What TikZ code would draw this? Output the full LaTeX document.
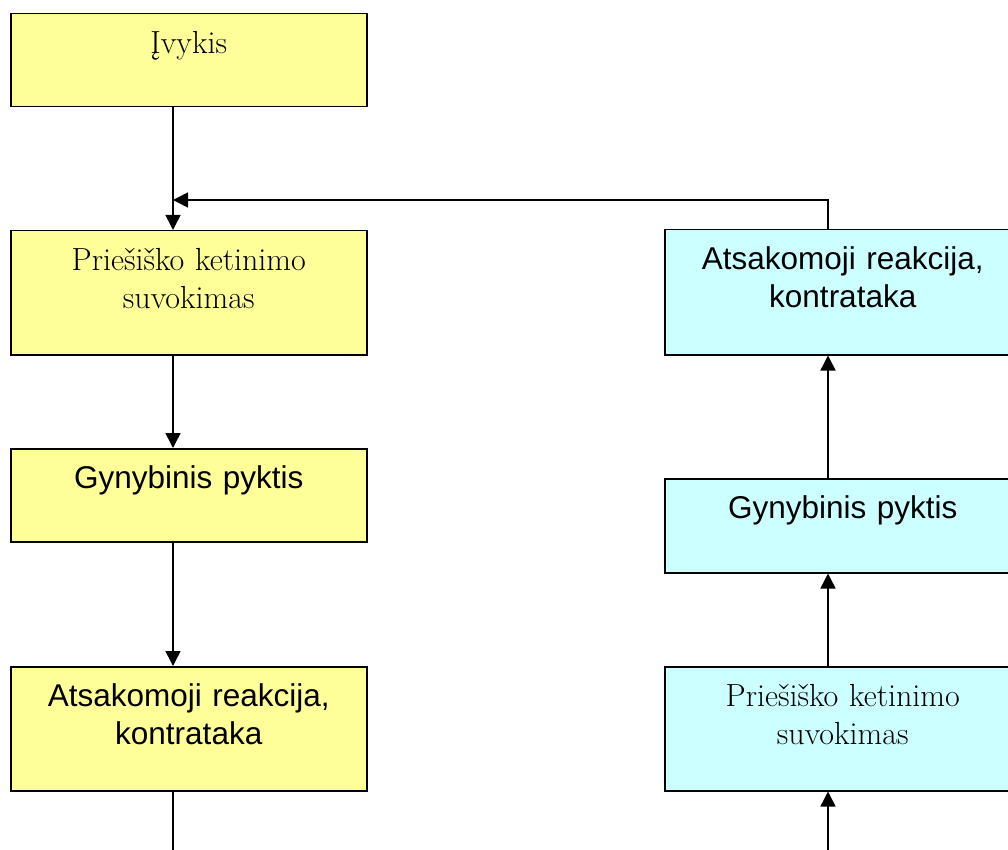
\documentclass[tikz,border=0pt]{standalone}
\usepackage{fontspec}
\newfontfamily\arialfont{Liberation Sans}
\usetikzlibrary{arrows.meta}

\definecolor{boxYellow}{RGB}{255,255,153}
\definecolor{boxCyan}{RGB}{204,255,255}

\def\xL{173}
\def\xR{828}

\tikzset{
  box/.style={draw=black, line width=1.5pt, inner sep=0pt, text width=356pt,
    text height=40pt, align=center, anchor=north west},
  ybox/.style={box, fill=boxYellow, text depth=#1},
  cbox/.style={box, fill=boxCyan, text depth=#1},
  serif/.style={font=\fontsize{32}{38}\selectfont},
  sans/.style={font=\arialfont\fontsize{31.5}{38}\selectfont},
  link/.style={->, line width=1.5pt}
}

\begin{document}
\begin{tikzpicture}[x=1pt, y=-1pt, >={Triangle[width=15pt,length=15pt]}]
  \useasboundingbox (0,0) rectangle (1008,850);
  \clip (0,0) rectangle (1008,850);
  \coordinate (cL) at (\xL,0);
  \coordinate (cR) at (\xR,0);

  % left column
  \node[ybox=53pt, serif] (ivykis) at (10,13) {Įvykis};
  \node[ybox=84pt, serif] (suvL) at (10,230) {Priešiško ketinimo\\suvokimas};
  \node[ybox=53pt, sans] (pyktL) at (10,448) {Gynybinis pyktis};
  \node[ybox=84pt, sans] (atsL) at (10,666) {Atsakomoji reakcija,\\kontrataka};

  % right column
  \node[cbox=85pt, sans] (atsR) at (664,229) {Atsakomoji reakcija,\\kontrataka};
  \node[cbox=54pt, sans] (pyktR) at (664,478) {Gynybinis pyktis};
  \node[cbox=84pt, serif] (suvR) at (664,666) {Priešiško ketinimo\\suvokimas};

  \coordinate (join) at (\xL,200);
  \coordinate (outL) at (\xL,870);
  \coordinate (inR) at (\xR,870);

  \draw[link] (ivykis.south -| cL) -- (suvL.north -| cL);
  \draw[link] (suvL.south -| cL) -- (pyktL.north -| cL);
  \draw[link] (pyktL.south -| cL) -- (atsL.north -| cL);
  \draw[line width=1.5pt] (atsL.south -| cL) -- (outL);

  \draw[link] (inR) -- (suvR.south -| cR);
  \draw[link] (suvR.north -| cR) -- (pyktR.south -| cR);
  \draw[link] (pyktR.north -| cR) -- (atsR.south -| cR);
  \draw[link] (atsR.north -| cR) |- (join);
\end{tikzpicture}
\end{document}
